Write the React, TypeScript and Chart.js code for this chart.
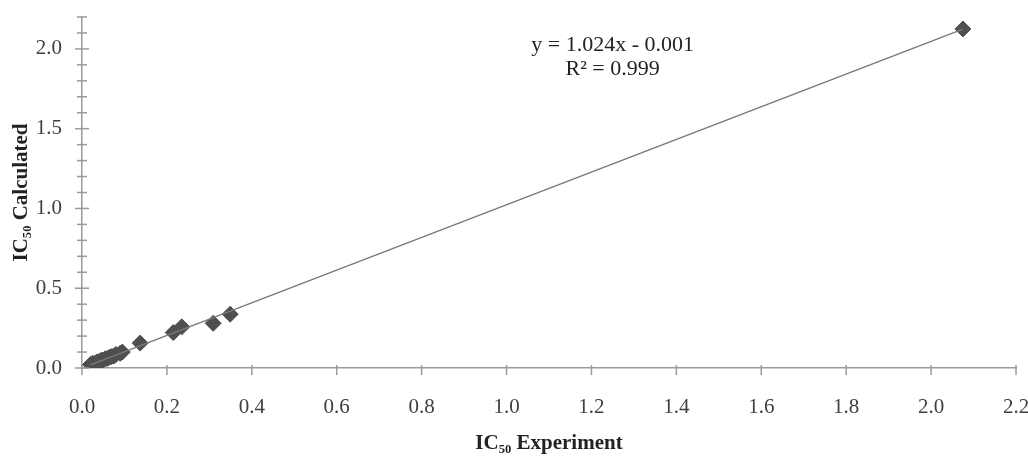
import React, { useEffect, useRef } from "react";
import { Chart, registerables } from "chart.js";

Chart.register(...registerables);

const xExperiment = [0.02, 0.025, 0.03, 0.035, 0.04, 0.045, 0.05, 0.055, 0.06, 0.065, 0.07, 0.075, 0.08, 0.09, 0.095, 0.137, 0.215, 0.235, 0.309, 0.349, 2.075];
const yCalculated = [0.022, 0.03, 0.028, 0.038, 0.04, 0.048, 0.05, 0.058, 0.06, 0.068, 0.072, 0.075, 0.085, 0.092, 0.1, 0.156, 0.222, 0.258, 0.28, 0.337, 2.125];
const trendSlope = 1.024;
const trendIntercept = -0.001;
const trendX = [0.02, 2.075];
const equationLines = ["y = 1.024x - 0.001", "R² = 0.999"];
const xTitle = "IC₅₀ Experiment";
const yTitle = "IC₅₀ Calculated";

const SERIF = '"Liberation Serif", "Times New Roman", serif';

const axisTicksPlugin = {
  id: "axisTicks",
  afterDraw(chart: any) {
    const ctx = chart.ctx;
    const xs = chart.scales.x;
    const ys = chart.scales.y;
    const ax = xs.left;
    const ay = ys.bottom;
    ctx.save();
    ctx.strokeStyle = "#9a9a9a";
    ctx.lineWidth = 1.5;
    ys.ticks.forEach((t: any) => {
      const p = ys.getPixelForValue(t.value);
      const major = Math.abs(t.value / 0.5 - Math.round(t.value / 0.5)) < 1e-6;
      ctx.beginPath();
      ctx.moveTo(ax - (major ? 7 : 5), p);
      ctx.lineTo(ax + (major ? 7 : 5), p);
      ctx.stroke();
    });
    xs.ticks.forEach((t: any) => {
      const p = xs.getPixelForValue(t.value);
      ctx.beginPath();
      ctx.moveTo(p, ay - 3);
      ctx.lineTo(p, ay + 7);
      ctx.stroke();
    });
    // equation text
    ctx.fillStyle = "#222";
    ctx.font = `22px ${SERIF}`;
    ctx.textAlign = "center";
    ctx.textBaseline = "middle";
    const ex = xs.getPixelForValue(1.25);
    ctx.fillText(equationLines[0], ex, ys.getPixelForValue(2.02));
    ctx.fillText(equationLines[1], ex, ys.getPixelForValue(1.87));
    ctx.restore();
  },
};

export default function App() {
  const ref = useRef<HTMLCanvasElement>(null);
  useEffect(() => {
    document.body.style.margin = "0";
    const points = xExperiment.map((x, i) => ({ x, y: yCalculated[i] }));
    const trend = trendX.map((x) => ({ x, y: trendSlope * x + trendIntercept }));
    const chart = new Chart(ref.current!, {
      type: "scatter",
      data: {
        datasets: [
          {
            type: "line",
            data: trend,
            borderColor: "#7a7a7a",
            borderWidth: 1.5,
            pointRadius: 0,
            fill: false,
          },
          {
            data: points,
            pointStyle: "rectRot",
            pointRadius: 8,
            backgroundColor: "#4f4f4f",
            borderColor: "#4f4f4f",
            borderWidth: 1,
          },
        ],
      } as any,
      options: {
        animation: false,
        responsive: false,
        layout: { padding: { top: 17, right: 12, left: 0, bottom: 0 } },
        plugins: { legend: { display: false }, tooltip: { enabled: false } },
        scales: {
          x: {
            type: "linear",
            min: 0,
            max: 2.2,
            grid: { display: false, drawTicks: false },
            border: { display: true, color: "#9a9a9a", width: 1.5 },
            ticks: {
              stepSize: 0.2,
              padding: 27,
              color: "#404040",
              font: { family: SERIF, size: 21 },
              callback: (v: any) => Number(v).toFixed(1),
              maxRotation: 0,
              autoSkip: false,
            },
            title: {
              display: true,
              text: xTitle,
              color: "#222",
              font: { family: SERIF, size: 21, weight: "bold" },
              padding: { top: 4, bottom: 4 },
            },
            afterFit: (s: any) => {
              s.height = 92;
              s.paddingLeft = 0;
              s.paddingRight = 0;
            },
          },
          y: {
            type: "linear",
            min: 0,
            max: 2.2,
            grid: { display: false, drawTicks: false },
            border: { display: true, color: "#9a9a9a", width: 1.5 },
            ticks: {
              stepSize: 0.1,
              padding: 20,
              color: "#404040",
              font: { family: SERIF, size: 21 },
              autoSkip: false,
              callback: (v: any) => {
                const n = Number(v);
                return Math.abs(n / 0.5 - Math.round(n / 0.5)) < 1e-6 ? n.toFixed(1) : "";
              },
            },
            title: {
              display: true,
              text: yTitle,
              color: "#222",
              font: { family: SERIF, size: 21, weight: "bold" },
              padding: { top: 9, bottom: 4 },
            },
            afterFit: (s: any) => {
              s.width = 82;
              s.paddingTop = 0;
              s.paddingBottom = 0;
            },
          },
        },
      },
      plugins: [axisTicksPlugin],
    });
    return () => chart.destroy();
  }, []);
  return <canvas ref={ref} width={1028} height={460} style={{ display: "block" }} />;
}
